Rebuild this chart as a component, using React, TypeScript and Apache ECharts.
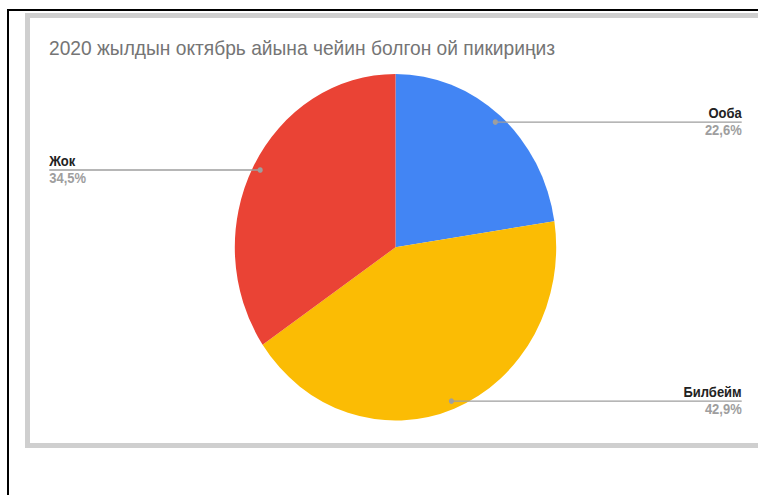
import React, { useEffect, useRef } from "react";
import * as echarts from "echarts";

// Survey answers (share of respondents, %)
const categories = ["Ооба", "Билбейм", "Жок"];
const values = [22.6, 42.9, 34.5];
const colors = ["#4285F4", "#FBBC04", "#EA4335"];
const titleText = "2020 жылдын октябрь айына чейин болгон ой пикириңиз";

// Page and chart geometry
const PAGE_W = 758;
const PAGE_H = 495;
const STRETCH_Y = 1.0785;
const CHART_H = PAGE_H / STRETCH_Y;
const CENTER: [number, number] = [395.5, 229.3];
const RADIUS = 160.7;
const DOT_R = 0.953; // leader dot position as a fraction of the radius
const RIGHT_EDGE = 741.7;
const LEFT_EDGE = 49.3;
const FONT = "Arial, 'Liberation Sans', sans-serif";

export default function App() {
  const ref = useRef<HTMLDivElement>(null);

  useEffect(() => {
    if (!ref.current) return;
    const chart = echarts.init(ref.current, null, { renderer: "svg" });

    const total = values.reduce((a, b) => a + b, 0);
    let acc = 0;
    const leaderData = values.map((v, i) => {
      const mid = acc + v / 2;
      acc += v;
      return [DOT_R, mid, i];
    });

    chart.setOption({
      animation: false,
      backgroundColor: "transparent",
      title: {
        text: titleText,
        left: 49,
        top: 35,
        padding: 0,
        textStyle: {
          fontFamily: FONT,
          fontSize: 19.2,
          fontWeight: "normal",
          color: "#757575",
        },
      },
      polar: { center: CENTER, radius: RADIUS },
      angleAxis: {
        type: "value",
        min: 0,
        max: total,
        startAngle: 90,
        clockwise: true,
        show: false,
      },
      radiusAxis: { type: "value", min: 0, max: 1, show: false },
      series: [
        {
          type: "pie",
          center: CENTER,
          radius: RADIUS,
          startAngle: 90,
          clockwise: true,
          silent: true,
          label: { show: false },
          labelLine: { show: false },
          itemStyle: { borderWidth: 0 },
          data: categories.map((name, i) => ({
            name,
            value: values[i],
            itemStyle: { color: colors[i] },
          })),
          z: 2,
        },
        {
          type: "custom",
          coordinateSystem: "polar",
          silent: true,
          z: 5,
          data: leaderData,
          renderItem: (params: any, api: any) => {
            const idx = api.value(2);
            const pt = api.coord([api.value(0), api.value(1)]);
            const c = api.coord([0, 0]);
            const right = pt[0] >= c[0];
            const edge = right ? RIGHT_EDGE : LEFT_EDGE;
            const align = right ? "right" : "left";
            const pct =
              ((values[idx] / total) * 100).toFixed(1).replace(".", ",") + "%";
            return {
              type: "group",
              children: [
                {
                  type: "line",
                  shape: { x1: pt[0], y1: pt[1], x2: edge, y2: pt[1] },
                  style: { stroke: "#9e9e9e", lineWidth: 1.2 },
                },
                {
                  type: "circle",
                  shape: { cx: pt[0], cy: pt[1], r: 2.6 },
                  style: { fill: "#9e9e9e" },
                },
                {
                  type: "text",
                  x: edge,
                  y: pt[1] - 1.5,
                  style: {
                    text: categories[idx],
                    align,
                    verticalAlign: "bottom",
                    fontFamily: FONT,
                    fontSize: 13,
                    fontWeight: "bold",
                    fill: "#222222",
                  },
                },
                {
                  type: "text",
                  x: edge,
                  y: pt[1] + 1.5,
                  style: {
                    text: pct,
                    align,
                    verticalAlign: "top",
                    fontFamily: FONT,
                    fontSize: 13,
                    fontWeight: "bold",
                    fill: "#9e9e9e",
                  },
                },
              ],
            };
          },
        },
      ],
    });

    return () => chart.dispose();
  }, []);

  return (
    <div
      style={{
        position: "fixed",
        left: 0,
        top: 0,
        width: PAGE_W,
        height: PAGE_H,
        overflow: "hidden",
        background: "#ffffff",
      }}
    >
      {/* outer black frame */}
      <div style={{ position: "absolute", left: 7, top: 9, width: PAGE_W, height: 2, background: "#000" }} />
      <div style={{ position: "absolute", left: 7, top: 9, width: 2, height: PAGE_H, background: "#000" }} />
      {/* grey card border */}
      <div
        style={{
          position: "absolute",
          left: 25,
          top: 13,
          width: 800,
          height: 435,
          boxSizing: "border-box",
          border: "5px solid #cfcfcf",
          background: "#ffffff",
        }}
      />
      <div
        ref={ref}
        style={{
          position: "absolute",
          left: 0,
          top: 0,
          width: PAGE_W,
          height: CHART_H,
          transform: `scaleY(${STRETCH_Y})`,
          transformOrigin: "0 0",
        }}
      />
    </div>
  );
}
